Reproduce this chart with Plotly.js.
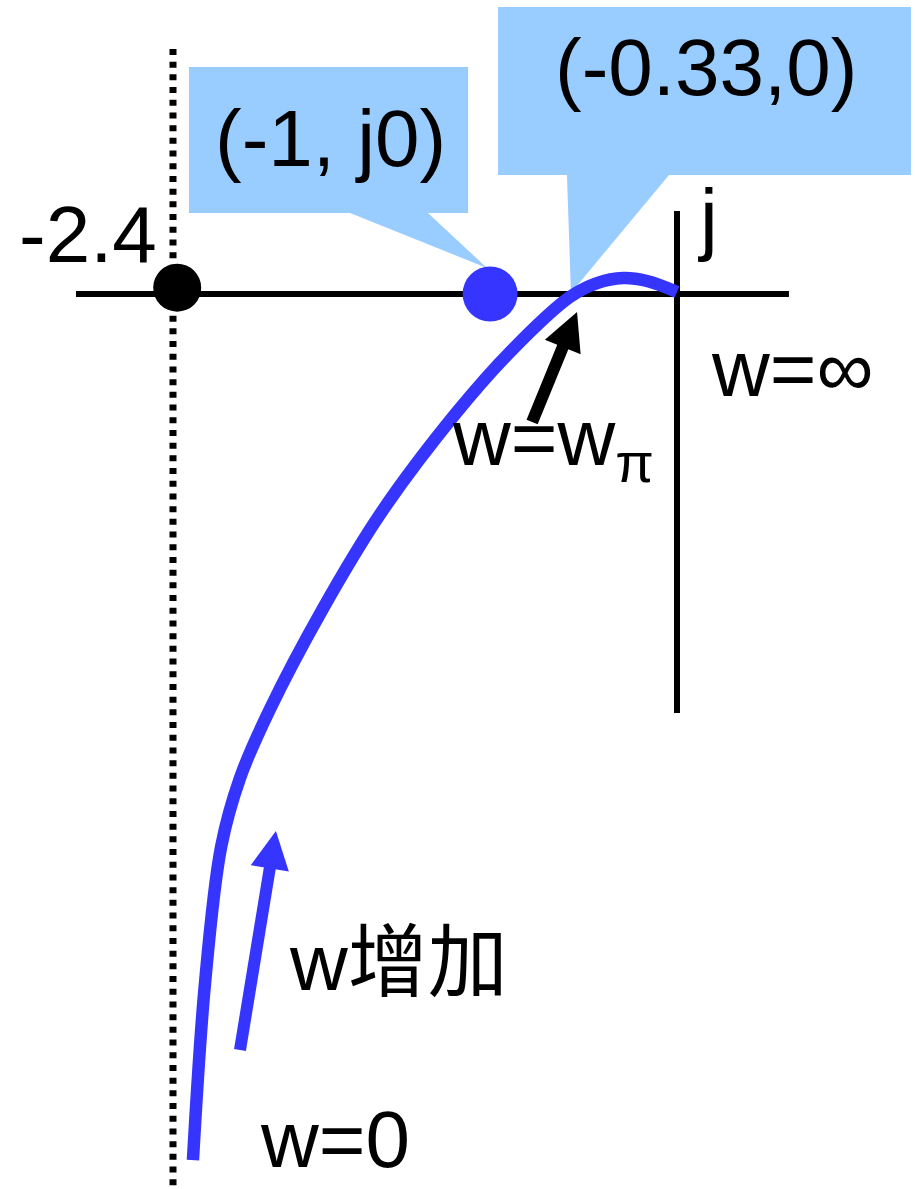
<!DOCTYPE html>
<html>
<head>
<meta charset="utf-8">
<script src="https://cdn.plot.ly/plotly-3.0.1.min.js"></script>
<style>html,body{margin:0;padding:0;background:#fff;}#chart{width:915px;height:1189px;}</style>
</head>
<body>
<div id="chart"></div>
<script>
// ---- Data (schematic Nyquist plot, units: Re / Im) ----
const curveRe = [-2.305, -2.248, -2.171, -2.081, -1.938, -1.690, -1.410, -1.052, -0.786, -0.510, -0.381, -0.257, -0.143, 0.0];
const curveIm = [-4.124, -3.286, -2.633, -2.305, -1.976, -1.505, -1.043, -0.567, -0.267, -0.014, 0.052, 0.076, 0.062, 0.010];
const criticalPoint = [-0.89, 0];      // (-1, j0)
const gainPoint = [-2.38, 0.03];       // -2.4
const asymptoteRe = -2.4;
const realAxisRe = [-2.862, 0.533];
const imagAxisIm = [0.395, -1.995];
const labels = ["(-1, j0)", "(-0.33,0)", "-2.4", "j", "w=\u221e", "w=w<sub>\u03c0</sub>", "w\u589e\u52a0", "w=0"];

// ---- Layout helpers ----
const X0 = -3.2238, X1 = 1.1333, Y0 = -4.2619, Y1 = 1.4;
const FONT = "Liberation Sans, Arial, Noto Sans CJK SC, sans-serif";

function poly(pts) {
  return 'M ' + pts.map(p => p[0] + ',' + p[1]).join(' L ') + ' Z';
}
function arrowShapes(tail, tip, color) {
  const dx = tip[0] - tail[0], dy = tip[1] - tail[1];
  const len = Math.hypot(dx, dy);
  const ux = dx / len, uy = dy / len, nx = -uy, ny = ux;
  const L = 0.18, W = 0.092;
  const bx = tip[0] - L * ux, by = tip[1] - L * uy;
  return [
    {type: 'line', xref: 'x', yref: 'y', x0: tail[0], y0: tail[1], x1: bx + 0.02 * ux, y1: by + 0.02 * uy,
     line: {color: color, width: 12}, layer: 'above'},
    {type: 'path', xref: 'x', yref: 'y', path: poly([tip, [bx + W * nx, by + W * ny], [bx - W * nx, by - W * ny]]),
     fillcolor: color, line: {width: 0}, layer: 'above'}
  ];
}

const callout1 = poly([[-2.324, 1.081], [-0.995, 1.081], [-0.995, 0.386], [-1.186, 0.386], [-0.905, 0.124], [-1.557, 0.386], [-2.324, 0.386]]);
const callout2 = poly([[-0.852, 1.367], [1.114, 1.367], [1.114, 0.567], [-0.038, 0.567], [-0.505, 0.005], [-0.524, 0.567], [-0.852, 0.567]]);

const blue = '#3535FF';
const traces = [
  {x: [asymptoteRe, asymptoteRe], y: [1.167, Y0], mode: 'lines', line: {color: '#000', width: 7, dash: '6px,6.7px'}, hoverinfo: 'skip'},
  {x: realAxisRe, y: [0, 0], mode: 'lines', line: {color: '#000', width: 6}, hoverinfo: 'skip'},
  {x: [0, 0], y: imagAxisIm, mode: 'lines', line: {color: '#000', width: 6}, hoverinfo: 'skip'},
  {x: curveRe, y: curveIm, mode: 'lines', line: {color: blue, width: 12.5, shape: 'spline', smoothing: 1, simplify: false}, hoverinfo: 'skip'},
  {x: [gainPoint[0]], y: [gainPoint[1]], mode: 'markers', marker: {color: '#000', size: 48}, hoverinfo: 'skip'},
  {x: [criticalPoint[0]], y: [criticalPoint[1]], mode: 'markers', marker: {color: blue, size: 55}, hoverinfo: 'skip'}
];

function txt(text, x, y, xanchor) {
  return {text: text, x: x, y: y, xref: 'x', yref: 'y', showarrow: false, xanchor: xanchor || 'center', yanchor: 'middle',
          font: {family: FONT, size: 80, color: '#000'}};
}

const layout = {
  width: 915, height: 1189,
  margin: {l: 0, r: 0, t: 0, b: 0},
  paper_bgcolor: '#fff', plot_bgcolor: '#fff',
  showlegend: false,
  xaxis: {range: [X0, X1], visible: false, fixedrange: true},
  yaxis: {range: [Y0, Y1], visible: false, fixedrange: true},
  shapes: [
    {type: 'path', xref: 'x', yref: 'y', path: callout1, fillcolor: '#99CCFF', line: {width: 0}, layer: 'below'},
    {type: 'path', xref: 'x', yref: 'y', path: callout2, fillcolor: '#99CCFF', line: {width: 0}, layer: 'below'}
  ].concat(arrowShapes([-0.690, -0.610], [-0.476, -0.086], '#000'))
   .concat(arrowShapes([-2.081, -3.600], [-1.910, -2.557], blue)),
  annotations: [
    txt(labels[0], -1.652, 0.740),
    txt(labels[1], 0.136, 1.079),
    txt(labels[2], -2.805, 0.281),
    txt(labels[3], 0.148, 0.362),
    txt(labels[4], 0.548, -0.357),
    txt(labels[5], -1.081, -0.710, 'left'),
    txt(labels[6], -1.857, -3.181, 'left'),
    txt(labels[7], -1.995, -4.024, 'left')
  ]
};

Plotly.newPlot('chart', traces, layout, {displayModeBar: false, staticPlot: true});
</script>
</body>
</html>
